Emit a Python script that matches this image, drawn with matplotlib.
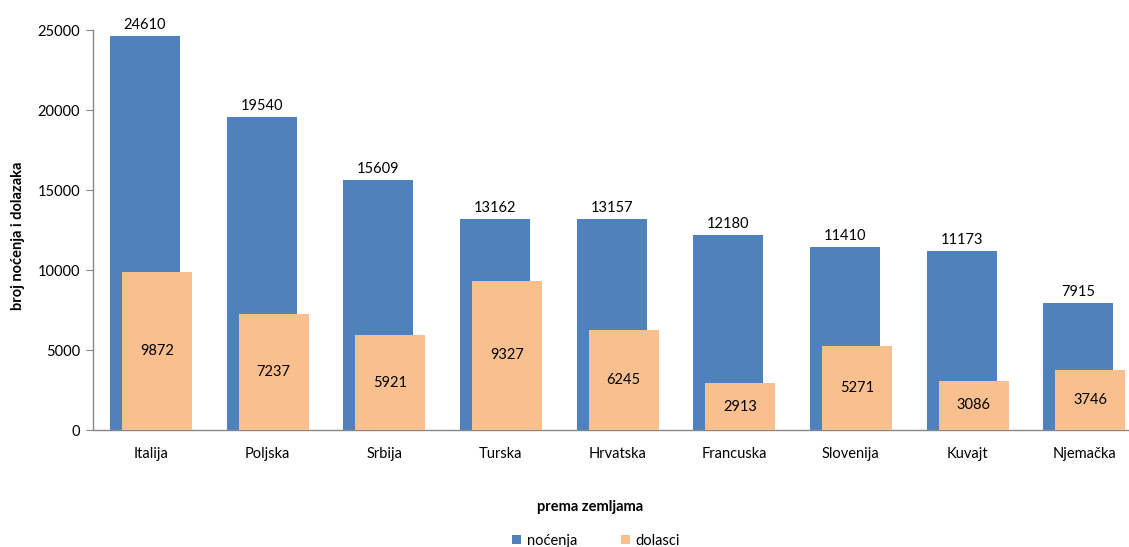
import matplotlib
matplotlib.use("Agg")
import matplotlib.pyplot as plt
import numpy as np

categories = ["Italija", "Poljska", "Srbija", "Turska", "Hrvatska", "Francuska", "Slovenija", "Kuvajt", "Njemačka"]
nocenja = [24610, 19540, 15609, 13162, 13157, 12180, 11410, 11173, 7915]
dolasci = [9872, 7237, 5921, 9327, 6245, 2913, 5271, 3086, 3746]
yticks = [0, 5000, 10000, 15000, 20000, 25000]

plt.rcParams['font.family'] = ['Lato', 'DejaVu Sans']

W, H = 1129, 547
fig = plt.figure(figsize=(W / 100, H / 100), dpi=100)
left, right, top, bottom = 92.7, 1142.5, 30, 430
ax = fig.add_axes([left / W, 1 - bottom / H, (right - left) / W, (bottom - top) / H])

x = np.arange(len(categories))
bw = 0.6
off = 0.0515
blue = "#4F81BD"
orange = "#F9BF8F"
ax.bar(x - off, nocenja, width=bw, color=blue, zorder=2, label="noćenja")
ax.bar(x + off, dolasci, width=bw, color=orange, zorder=3, label="dolasci")

fs = 10.5
for xi, v in zip(x, nocenja):
    ax.text(xi - off, v + 250, str(v), ha="center", va="bottom", fontsize=fs, color="#000000")
for xi, v in zip(x, dolasci):
    ax.text(xi + off, v / 2, str(v), ha="center", va="center", fontsize=fs, color="#000000", zorder=4)

ax.set_xlim(-0.5, len(categories) - 0.5)
ax.set_ylim(0, 25000)
ax.set_yticks(yticks)
ax.set_yticklabels([str(t) for t in yticks], fontsize=fs)
ax.set_xticks(x)
ax.set_xticklabels(categories, fontsize=fs)
ax.tick_params(axis="x", length=0, pad=12)
ax.tick_params(axis="y", length=5, color="#868686", pad=4)
for s in ["top", "right"]:
    ax.spines[s].set_visible(False)
for s in ["left", "bottom"]:
    ax.spines[s].set_color("#868686")
    ax.spines[s].set_linewidth(1)

fig.text(18 / W, 1 - 236 / H, "broj noćenja i dolazaka", rotation=90, ha="center", va="center",
         fontsize=10.5, fontweight="bold")
fig.text(590 / W, 1 - 507 / H, "prema zemljama", ha="center", va="center", fontsize=10.5, fontweight="bold")

fig.legend(loc="center", bbox_to_anchor=(596 / W, 1 - 541 / H), ncol=2, frameon=False, fontsize=fs,
           handlelength=0.6, handleheight=0.6, columnspacing=3, handletextpad=0.4)

fig.savefig("out.png", dpi=100)
